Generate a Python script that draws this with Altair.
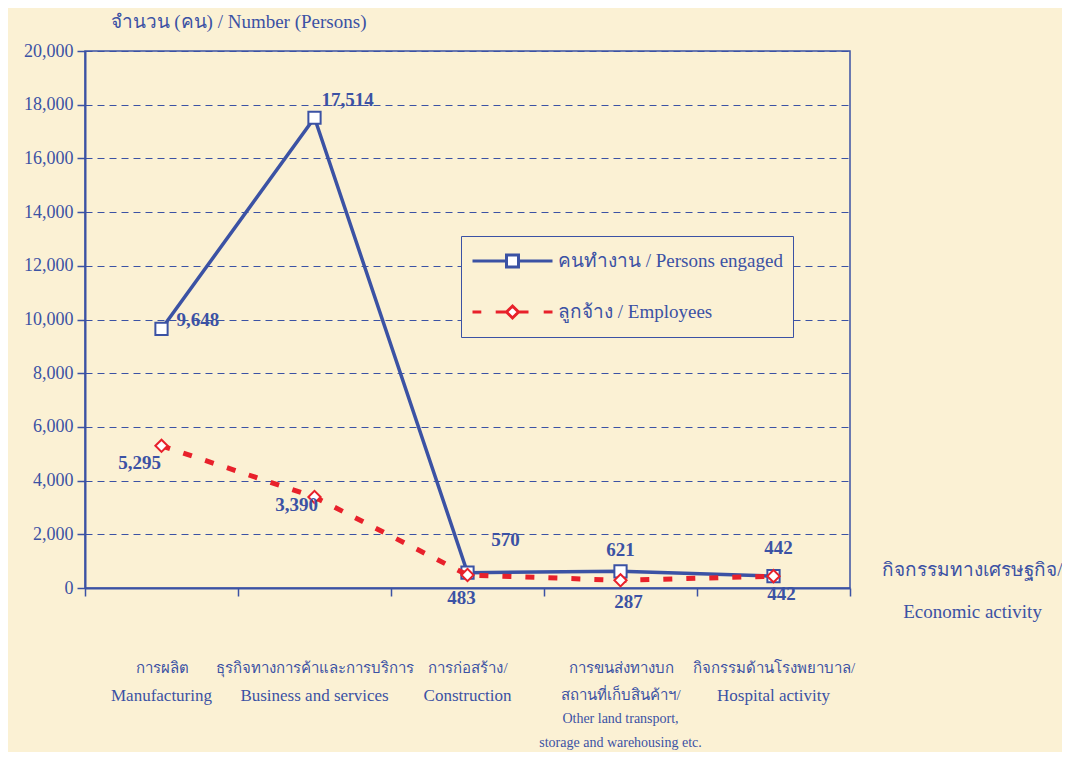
import altair as alt
import pandas as pd

# ---- data ----
cat_th = [
    "การผลิต",
    "ธุรกิจทางการค้าและการบริการ",
    "การก่อสร้าง/",
    "การขนส่งทางบก|สถานที่เก็บสินค้าฯ/",
    "กิจกรรมด้านโรงพยาบาล/",
]
cat_en = [
    "Manufacturing",
    "Business and services",
    "Construction",
    "|Other land transport,|storage and warehousing etc.",
    "Hospital activity",
]
categories = [t + "#" + e for t, e in zip(cat_th, cat_en)]
persons = [9648, 17514, 570, 621, 442]
employees = [5295, 3390, 483, 287, 442]
series_names = ["คนทำงาน / Persons engaged", "ลูกจ้าง / Employees"]
y_ticks = [0, 2000, 4000, 6000, 8000, 10000, 12000, 14000, 16000, 18000, 20000]
y_title = "จำนวน (คน) / Number  (Persons)"
x_title = ["กิจกรรมทางเศรษฐกิจ/", "Economic activity"]

rows = []
for s, vals in zip(series_names, [persons, employees]):
    for i, (c, v) in enumerate(zip(categories, vals)):
        rows.append({"cat": c, "series": s, "value": v, "idx": i, "label": f"{v:,}"})
df = pd.DataFrame(rows)

# ---- style ----
BLUE = "#3b52a4"
RED = "#e8212b"
BG = "#fbf1d4"
FONT = "Liberation Serif"

PATH_P = "M-1,0H-0.15M0.15,0H1M-0.15,-0.15H0.15V0.15H-0.15Z"
PATH_E = "M-1,0H-0.78M-0.42,0H-0.15M0.15,0H0.4M0.78,0H1M0,-0.15L0.15,0L0,0.15L-0.15,0Z"

x_scale = alt.Scale(type="band", domain=categories, paddingInner=0, paddingOuter=0)

x_enc = alt.X(
    "cat:N",
    sort=categories,
    bandPosition=0.5,
    scale=x_scale,
    axis=alt.Axis(
        title=x_title,
        titleX=887, titleY=-28, titleAlign="center", titleBaseline="top",
        titleFont=FONT, titleFontSize=19, titleFontWeight="normal", titleColor=BLUE,
        titleLineHeight=42,
        tickBand="extent", tickSize=8, tickColor=BLUE, tickWidth=1.5,
        domainColor=BLUE, domainWidth=2,
        labelExpr="split(split(datum.label, '#')[0], '|')", labelAngle=0,
        labelFont=FONT, labelFontSize=15, labelColor=BLUE, labelLineHeight=27,
        labelPadding=64, labelBaseline="top", labelOverlap=False, labelLimit=400,
    ),
)
# English part of the category labels (second label row, drawn by a second axis)
x_enc_en = alt.X(
    "cat:N",
    sort=categories,
    bandPosition=0.5,
    scale=x_scale,
    axis=alt.Axis(
        orient="top", title=None, domain=False, ticks=False, tickSize=0, grid=False,
        labelExpr="split(split(datum.label, '#')[1], '|')", labelAngle=0,
        labelFont=FONT, labelColor=BLUE, labelLineHeight=24,
        labelFontSize={"condition": {"test": "indexof(datum.value, 'Other') >= 0", "value": 14}, "value": 17},
        labelPadding=-636, labelBaseline="top", labelOverlap=False, labelLimit=400,
    ),
)
y_enc = alt.Y(
    "value:Q",
    scale=alt.Scale(domain=[0, 20000], nice=False),
    axis=alt.Axis(
        values=y_ticks, format=",.0f",
        title=y_title, titleAngle=0, titleAlign="left", titleBaseline="alphabetic",
        titleX=25, titleY=-24,
        titleFont=FONT, titleFontSize=19, titleFontWeight="normal", titleColor=BLUE,
        labelFont=FONT, labelFontSize=18, labelColor=BLUE, labelPadding=4,
        tickSize=8, tickColor=BLUE, tickWidth=1.5,
        domainColor=BLUE, domainWidth=2,
        grid=True, gridColor=BLUE, gridDash=[7, 5], gridWidth=1,
    ),
)

base = alt.Chart(df)
p_data = base.transform_filter(alt.datum.series == series_names[0])
e_data = base.transform_filter(alt.datum.series == series_names[1])

line_p = p_data.mark_line(color=BLUE, strokeWidth=3.5).encode(x=x_enc, y=y_enc)
pts_p = p_data.mark_point(shape="square", size=150, filled=True, fill="white",
                          stroke=BLUE, strokeWidth=2, opacity=1).encode(x=x_enc, y=y_enc)
line_e = e_data.mark_line(color=RED, strokeWidth=5, strokeDash=[9, 14]).encode(x=x_enc, y=y_enc)
pts_e = e_data.mark_point(shape="diamond", size=150, filled=True, fill="white",
                          stroke=RED, strokeWidth=2, opacity=1).encode(x=x_enc, y=y_enc)

# label placement (series index, category index, align, dx, dy)
label_style = [
    (0, 0, "left", 15, -9), (0, 1, "left", 7, -18), (0, 2, "center", 38, -33),
    (0, 3, "center", 0, -21), (0, 4, "center", 5, -28),
    (1, 0, "center", -22, 17), (1, 1, "center", -18, 8), (1, 2, "center", -6, 23),
    (1, 3, "center", 8, 22), (1, 4, "center", 8, 18),
]
text_layers = []
for si, ci, al, dx, dy in label_style:
    text_layers.append(
        base.transform_filter(
            (alt.datum.series == series_names[si]) & (alt.datum.idx == ci)
        ).mark_text(font=FONT, fontSize=19, fontWeight="bold", color=BLUE,
                    align=al, baseline="middle", dx=dx, dy=dy)
        .encode(x=x_enc, y=y_enc, text="label:N")
    )

main = alt.layer(line_p, pts_p, line_e, pts_e, *text_layers)

legend_layer = base.transform_filter("false").mark_point(
    filled=True, fill="white", size=6400, strokeWidth=3, opacity=1
).encode(
    x=x_enc_en, y=y_enc,
    shape=alt.Shape("series:N", scale=alt.Scale(domain=series_names, range=[PATH_P, PATH_E]),
                    legend=alt.Legend(
                        title=None, orient="none", legendX=376, legendY=185,
                        direction="vertical", strokeColor=BLUE, fillColor=BG, padding=10,
                        labelFont=FONT, labelFontSize=19, labelColor=BLUE,
                        symbolSize=6400, symbolStrokeWidth=3, rowPadding=21, labelOffset=4,
                        clipHeight=30, labelLimit=400,
                    )),
    stroke=alt.Stroke("series:N", scale=alt.Scale(domain=series_names, range=[BLUE, RED])),
)

chart = alt.layer(main, legend_layer).resolve_axis(x="independent").properties(
    width=765, height=537,
    background=BG,
    padding={"left": 77, "top": 43, "right": 212, "bottom": 164},
    autosize=alt.AutoSizeParams(type="none"),
).configure_view(stroke=BLUE, strokeWidth=1.5)

chart.save("out.html", embed_options={"renderer": "svg", "actions": False})
